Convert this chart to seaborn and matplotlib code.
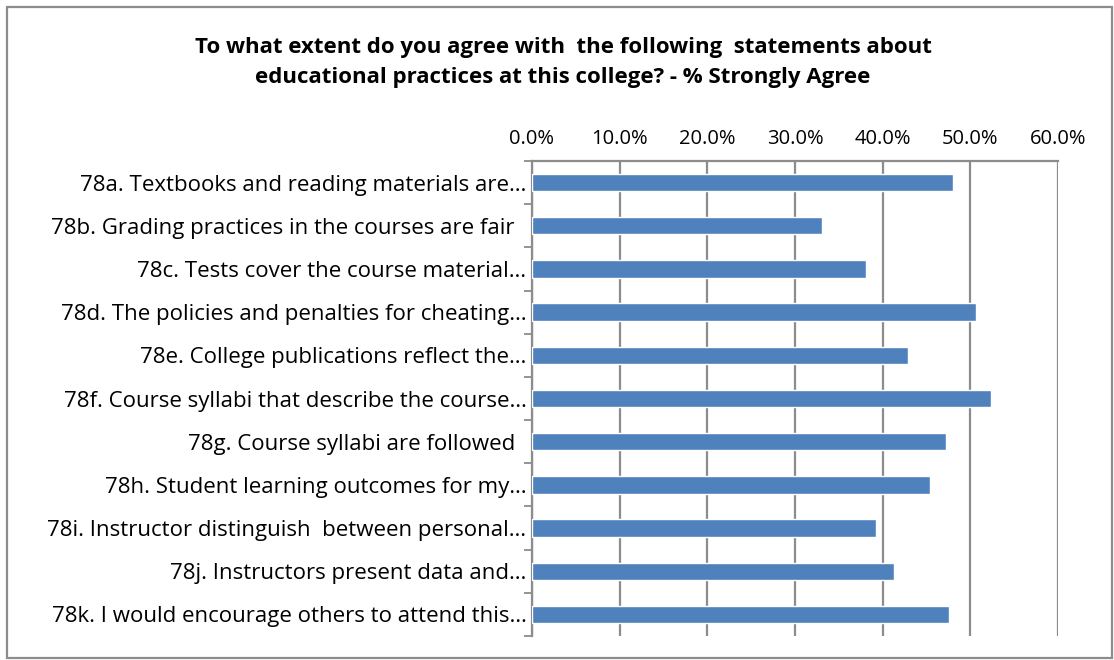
import matplotlib
matplotlib.use("Agg")
import matplotlib.pyplot as plt
import seaborn as sns
import pandas as pd
from matplotlib.ticker import FuncFormatter, FixedLocator

categories = [
    "78a. Textbooks and reading materials are…",
    "78b. Grading practices in the courses are fair  ",
    "78c. Tests cover the course material…",
    "78d. The policies and penalties for cheating…",
    "78e. College publications reflect the…",
    "78f. Course syllabi that describe the course…",
    "78g. Course syllabi are followed  ",
    "78h. Student learning outcomes for my…",
    "78i. Instructor distinguish  between personal…",
    "78j. Instructors present data and…",
    "78k. I would encourage others to attend this…",
]
values = [48.0, 33.1, 38.1, 50.6, 42.9, 52.4, 47.2, 45.4, 39.2, 41.3, 47.6]
xticks = [0, 10, 20, 30, 40, 50, 60]

df = pd.DataFrame({"cat": categories, "val": values})

sns.set_theme(style="white")
plt.rcParams["font.family"] = ["Open Sans", "DejaVu Sans"]
plt.rcParams["text.color"] = "black"
plt.rcParams["xtick.color"] = "black"
plt.rcParams["ytick.color"] = "black"

fig = plt.figure(figsize=(11.14, 6.6), dpi=100)
ax = fig.add_axes([532/1114, 1-636/660, (1058-532)/1114, (636-161)/660])

sns.barplot(data=df, x="val", y="cat", orient="h", color="#4F81BD",
            saturation=1, width=0.4, ax=ax, zorder=3)

ax.set_xlim(0, 60)
ax.xaxis.set_major_locator(FixedLocator(xticks))
ax.xaxis.set_major_formatter(FuncFormatter(lambda v, p: f"{v:.1f}%"))
ax.xaxis.tick_top()
ax.tick_params(axis="x", length=0, pad=9, labelsize=14.5, labelcolor="black")
ax.grid(axis="x", color="#8C8C8C", linewidth=1.6, zorder=0)
ax.grid(axis="y", visible=False)
ax.set_xlabel("")
ax.set_ylabel("")

n = len(categories)
ax.set_ylim(n - 0.5, -0.5)
ax.set_yticks(range(n))
ax.tick_params(axis="y", length=0, pad=4, labelsize=16, labelcolor="black")
ax.set_yticks([i - 0.5 for i in range(n + 1)], minor=True)
ax.tick_params(axis="y", which="minor", length=6, width=1.3, color="#8C8C8C", left=True)

for s in ["right", "bottom"]:
    ax.spines[s].set_visible(False)
for s in ["top", "left"]:
    ax.spines[s].set_color("#8C8C8C")
    ax.spines[s].set_linewidth(1.6)

fig.text(563/1114, 1-47/660,
         "To what extent do you agree with  the following  statements about",
         ha="center", va="center", fontsize=16, fontweight="bold")
fig.text(563/1114, 1-78/660,
         "educational practices at this college? - % Strongly Agree",
         ha="center", va="center", fontsize=16, fontweight="bold")

border = plt.Rectangle((7/1114, 2/660), 1-9/1114, 1-9/660, transform=fig.transFigure,
                       fill=False, edgecolor="#8C8C8C", linewidth=1.6)
fig.patches.append(border)

fig.savefig("out.png", dpi=100)
